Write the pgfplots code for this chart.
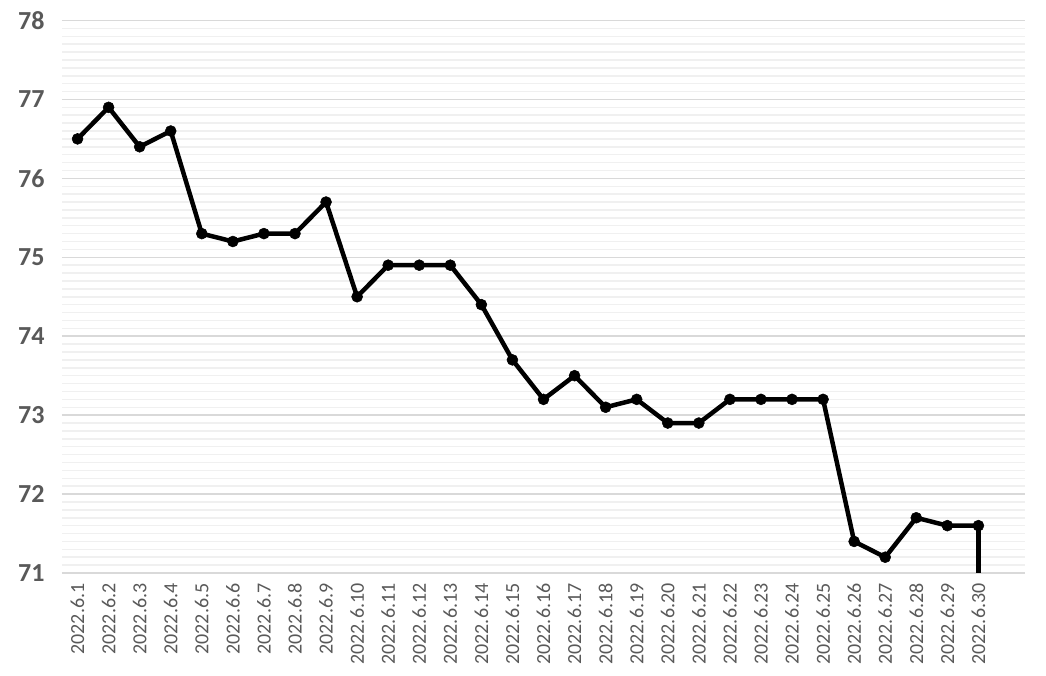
\documentclass[border=0pt]{standalone}
\usepackage{fontspec}
\setmainfont{Carlito}
\usepackage{pgfplots}
\pgfplotsset{compat=1.18}
\definecolor{txt}{HTML}{595959}
\definecolor{majgrid}{HTML}{D9D9D9}
\definecolor{mingrid}{HTML}{F0F0F0}
\begin{document}
\begin{tikzpicture}
\useasboundingbox (-62pt,-102pt) rectangle (984pt,573pt);
\begin{axis}[
  scale only axis,
  width=963pt, height=552.5pt,
  xmin=-0.5, xmax=30.5,
  ymin=71, ymax=78,
  ytick={71,72,...,78},
  minor y tick num=9,
  xtick={0,...,29},
  xticklabels={2022.6.1,2022.6.2,2022.6.3,2022.6.4,2022.6.5,2022.6.6,2022.6.7,2022.6.8,2022.6.9,2022.6.10,2022.6.11,2022.6.12,2022.6.13,2022.6.14,2022.6.15,2022.6.16,2022.6.17,2022.6.18,2022.6.19,2022.6.20,2022.6.21,2022.6.22,2022.6.23,2022.6.24,2022.6.25,2022.6.26,2022.6.27,2022.6.28,2022.6.29,2022.6.30},
  x tick label style={rotate=90, anchor=east, font=\fontsize{20}{20}\selectfont, text=txt, xshift=-7pt},
  y tick label style={font=\fontsize{26}{26}\selectfont\bfseries, text=txt, xshift=-14pt},
  /pgf/number format/assume math mode=true,
  major tick length=0pt, minor tick length=0pt,
  axis line style={draw=none},
  ymajorgrids, yminorgrids,
  major grid style={majgrid, line width=1.5pt},
  minor grid style={mingrid, line width=1.5pt},
  clip=true,
]
\addplot[black, line width=4.5pt, line join=round, mark=*, mark size=5.5pt, mark options={solid, fill=black, draw=black, line width=0.5pt}] coordinates {
(0,76.5)(1,76.9)(2,76.4)(3,76.6)(4,75.3)(5,75.2)(6,75.3)(7,75.3)(8,75.7)(9,74.5)
(10,74.9)(11,74.9)(12,74.9)(13,74.4)(14,73.7)(15,73.2)(16,73.5)(17,73.1)(18,73.2)(19,72.9)
(20,72.9)(21,73.2)(22,73.2)(23,73.2)(24,73.2)(25,71.4)(26,71.2)(27,71.7)(28,71.6)(29,71.6)
};
\addplot[black, line width=4.5pt, no markers] coordinates {(29,71.6)(29,71.0)};
\end{axis}
\end{tikzpicture}
\end{document}
